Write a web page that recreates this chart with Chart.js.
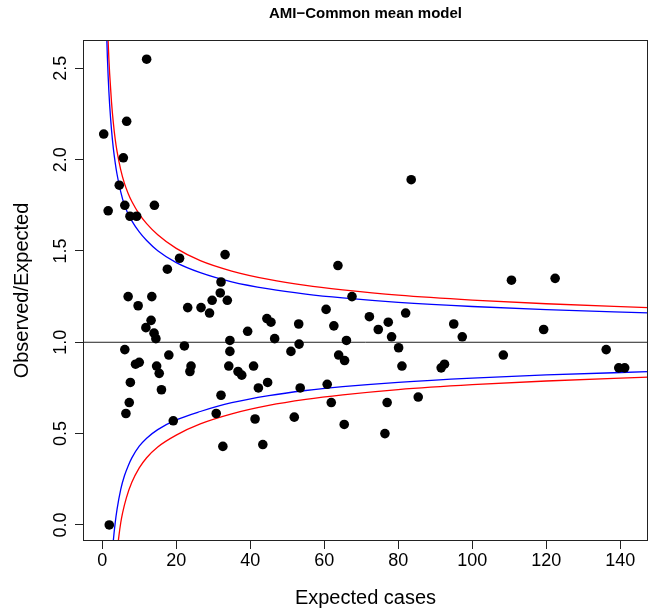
<!DOCTYPE html>
<html><head><meta charset="utf-8">
<script src="https://cdn.jsdelivr.net/npm/chart.js@4/dist/chart.umd.min.js"></script>
<style>html,body{margin:0;padding:0;background:#fff}#wrap{width:659px;height:615px;position:relative}</style>
</head><body><div id="wrap"><canvas id="c" width="659" height="615"></canvas></div>
<script>
// ---- data ----
const expectedCases = [12.0,6.6,0.4,5.7,4.6,6.1,14.1,1.6,7.5,9.3,20.9,17.6,33.2,32.1,31.9,29.7,33.8,7.0,13.4,9.7,23.1,26.7,29.0,13.2,11.8,14.0,14.5,39.3,44.5,45.6,46.6,34.5,6.1,22.2,34.5,18.0,9.0,10.0,14.7,15.4,24.0,23.7,34.2,36.7,37.7,40.9,7.6,16.0,7.3,6.4,32.1,42.2,44.7,19.2,30.8,41.3,32.6,43.4,1.9,83.5,63.7,67.5,60.5,72.2,82.0,53.1,62.6,77.3,74.6,95.0,78.2,97.3,53.2,66.0,51.0,63.9,65.5,80.1,81.0,91.6,92.5,53.5,60.8,61.9,77.0,85.4,51.9,65.4,76.4,110.6,122.4,119.3,108.4,136.2,139.6,141.2];
const observedRatio = [2.55,2.21,2.14,2.01,1.86,1.75,1.75,1.72,1.69,1.69,1.46,1.40,1.48,1.33,1.27,1.23,1.23,1.25,1.25,1.20,1.19,1.19,1.16,1.12,1.08,1.05,1.02,1.06,1.13,1.11,1.02,1.01,0.96,0.98,0.95,0.93,0.88,0.89,0.87,0.83,0.87,0.84,0.87,0.84,0.82,0.87,0.78,0.74,0.67,0.61,0.71,0.75,0.78,0.57,0.61,0.58,0.43,0.44,0.00,1.89,1.42,1.25,1.18,1.14,1.16,1.10,1.09,1.11,1.07,1.10,1.03,1.03,0.99,1.01,0.95,0.93,0.90,0.97,0.87,0.86,0.88,0.75,0.77,0.67,0.67,0.70,0.59,0.55,0.50,1.34,1.35,1.07,0.93,0.96,0.86,0.86];

// funnel limits
const blueUpperE = [1.2,1.4,1.6,1.8,2.0,2.5,3.0,3.5,4.0,5.0,6.0,7.0,8.0,10,12,15,20,26.5,35,45,55,65,80,100,120,147.5];
const blueUpper  = [2.680,2.555,2.455,2.371,2.301,2.164,2.062,1.984,1.920,1.823,1.751,1.703,1.665,1.604,1.557,1.501,1.436,1.381,1.331,1.292,1.264,1.243,1.219,1.196,1.179,1.161];
const redUpperE  = [1.4,1.6,1.8,2.0,2.5,3.0,3.5,4.0,5.0,6.0,7.0,8.0,10,12,15,20,26.5,35,45,55,65,80,100,120,147.5];
const redUpper   = [2.758,2.644,2.550,2.471,2.316,2.201,2.112,2.045,1.944,1.870,1.815,1.771,1.702,1.650,1.589,1.514,1.447,1.390,1.344,1.311,1.287,1.258,1.231,1.211,1.190];
const blueLowerE = [2.8,3.0,3.5,4.0,5.0,6.0,7.0,8.0,10,12,15,20,26.5,35,45,55,65,80,100,120,147.5];
const blueLower  = [-0.135,-0.085,0.011,0.085,0.195,0.269,0.323,0.367,0.431,0.475,0.522,0.575,0.621,0.669,0.708,0.736,0.757,0.781,0.804,0.821,0.839];
const redLowerE  = [4.0,4.5,5.0,5.5,6.5,8.0,10,12,15,20,26.5,35,45,55,65,80,100,120,147.5];
const redLower   = [-0.150,-0.061,0.012,0.066,0.147,0.233,0.312,0.368,0.427,0.492,0.553,0.608,0.654,0.687,0.712,0.741,0.768,0.788,0.809];
const referenceRatio = 1;

const xTicks = [0,20,40,60,80,100,120,140];
const yTicks = [0.0,0.5,1.0,1.5,2.0,2.5];
const X_MIN = -5.2, X_MAX = 147.5, Y_MIN = -0.088, Y_MAX = 2.655;

const pts = (xs, ys) => xs.map((x, i) => ({x, y: ys[i]}));
const FONT = "'Liberation Sans', Arial, Helvetica, sans-serif";

const boxPlugin = {
  id: 'box',
  afterDatasetsDraw(chart) {
    const {ctx, chartArea: a} = chart;
    ctx.save();
    ctx.strokeStyle = '#222';
    ctx.lineWidth = 1;
    ctx.strokeRect(Math.round(a.left) + 0.5, Math.round(a.top) + 0.5, Math.round(a.right - a.left) - 1, Math.round(a.bottom - a.top) - 1);
    ctx.restore();
  }
};

const lineDs = (data, color) => ({
  type: 'line', data, borderColor: color, borderWidth: 1.3, pointRadius: 0,
  fill: false, cubicInterpolationMode: 'monotone', showLine: true
});

new Chart(document.getElementById('c'), {
  type: 'scatter',
  data: {
    datasets: [
      { data: pts(expectedCases, observedRatio), backgroundColor: '#000', borderColor: '#000', pointRadius: 4.8, pointBorderWidth: 0, showLine: false },
      lineDs(pts(blueUpperE, blueUpper), '#0000ff'),
      lineDs(pts(redUpperE, redUpper), '#ff0000'),
      lineDs(pts(blueLowerE, blueLower), '#0000ff'),
      lineDs(pts(redLowerE, redLower), '#ff0000'),
      { type: 'line', data: [{x: X_MIN, y: referenceRatio}, {x: X_MAX, y: referenceRatio}], borderColor: '#222', borderWidth: 1, pointRadius: 0, fill: false }
    ]
  },
  options: {
    responsive: false, animation: false,
    layout: { padding: { left: 0, right: 11, top: 0, bottom: 0 } },
    plugins: {
      legend: { display: false }, tooltip: { enabled: false },
      title: { display: true, fullSize: false, text: 'AMI\u2212Common mean model', color: '#000',
               font: { family: FONT, size: 15, weight: 'bold' }, padding: { top: 5, bottom: 17 } }
    },
    scales: {
      x: {
        type: 'linear', position: 'bottom', min: X_MIN, max: X_MAX,
        afterBuildTicks: s => { s.ticks = xTicks.map(v => ({value: v})); },
        afterFit: s => { s.height = 74; },
        grid: { display: true, drawOnChartArea: false, drawTicks: true, tickLength: 8, color: '#222' },
        border: { display: false },
        ticks: { color: '#000', font: { family: FONT, size: 18 }, padding: 1, maxRotation: 0, autoSkip: false, callback: v => String(v) },
        title: { display: true, text: 'Expected cases', color: '#000', font: { family: FONT, size: 20 }, padding: { top: 0, bottom: 5 } }
      },
      y: {
        type: 'linear', position: 'left', min: Y_MIN, max: Y_MAX,
        afterBuildTicks: s => { s.ticks = yTicks.map(v => ({value: v})); },
        afterFit: s => { s.width = 83; },
        grid: { display: true, drawOnChartArea: false, drawTicks: true, tickLength: 8, color: '#222' },
        border: { display: false },
        ticks: { color: '#000', font: { family: FONT, size: 18 }, padding: 1, minRotation: 90, maxRotation: 90, crossAlign: 'center', autoSkip: false, callback: v => v.toFixed(1) },
        title: { display: true, text: 'Observed/Expected', color: '#000', font: { family: FONT, size: 20 }, padding: { top: 10, bottom: 0 } }
      }
    }
  },
  plugins: [boxPlugin]
});
</script>
</body></html>
